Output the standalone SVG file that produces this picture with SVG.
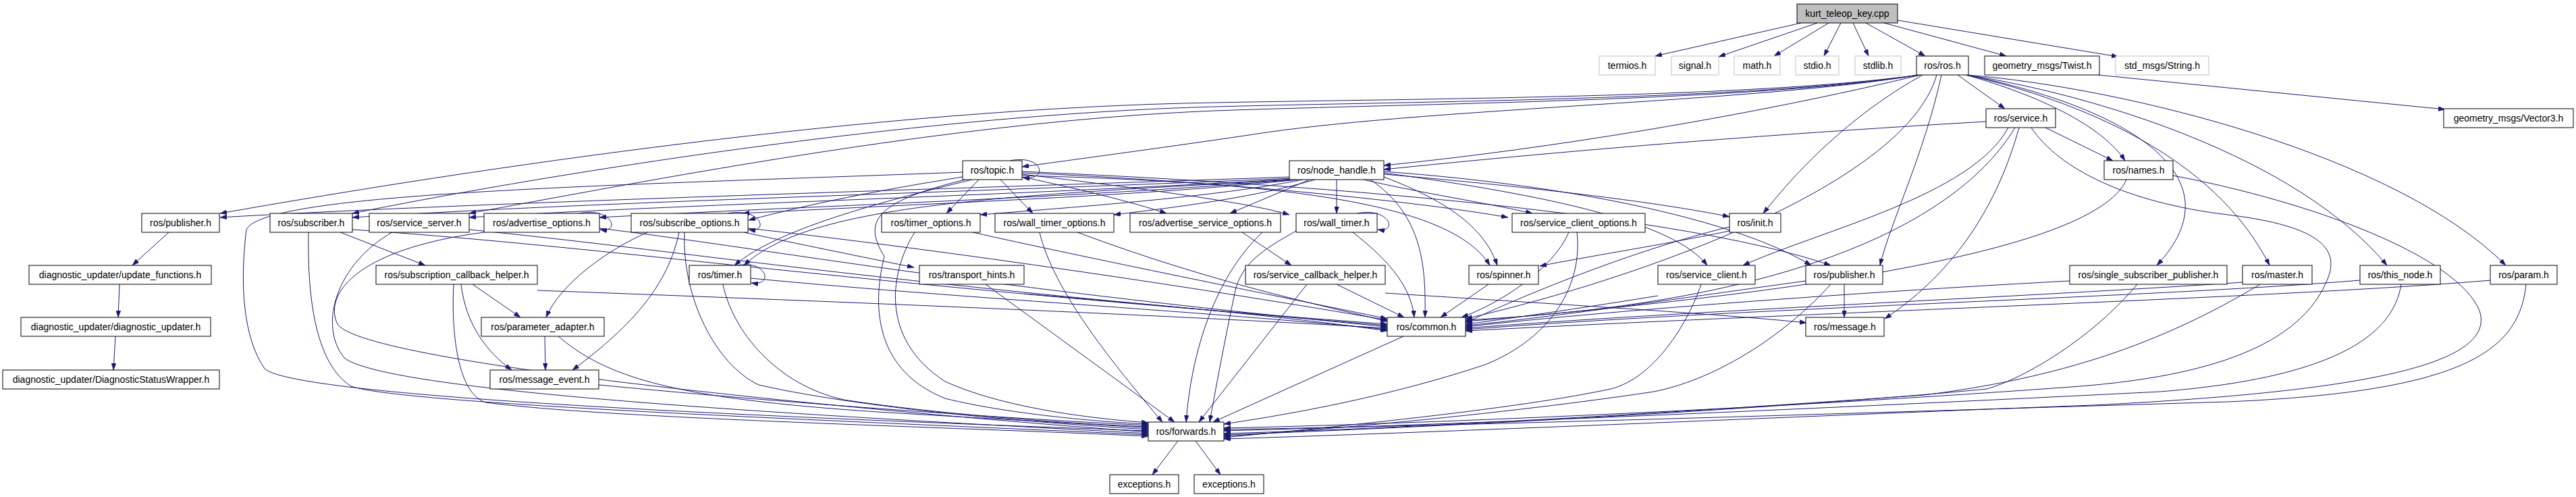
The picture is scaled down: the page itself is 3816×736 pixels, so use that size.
<svg xmlns="http://www.w3.org/2000/svg" width="3816" height="736" viewBox="0 0 3816 736">
<style>
.n rect{fill:#fff;stroke:#000;stroke-width:1}
.x rect{fill:#fff;stroke:#bfbfbf;stroke-width:1}
.r rect{fill:#bfbfbf;stroke:#000;stroke-width:1}
text{font-family:"Liberation Sans",Arial,Helvetica,sans-serif;font-size:14px;text-anchor:middle;fill:#000}
#edges path{fill:none;stroke:#191970;stroke-width:1;marker-end:url(#a)}
</style>
<defs>
<marker id="a" viewBox="0 0 10 7" refX="10" refY="3.5" markerWidth="10" markerHeight="7" markerUnits="userSpaceOnUse" orient="auto"><path d="M0,0L10,3.5L0,7z" fill="#191970" stroke="#191970" stroke-width="0.5"/></marker>
</defs>
<rect x="0" y="0" width="3816" height="736" fill="#fff"/>
<g id="edges">
<path d="M2668,34 L2452,83"/>
<path d="M2692,34 L2546,84"/>
<path d="M2709,34 L2628,83"/>
<path d="M2727,34 L2702,83"/>
<path d="M2745,34 L2768,83"/>
<path d="M2764,34 L2852,83"/>
<path d="M2791,34 L2972,83"/>
<path d="M2811,30 L3138,84"/>
<path d="M3108,111 L3622,162"/>
<path d="M2900,111 L2970,161"/>
<path d="M2912,111 C3000,135 3110,180 3148,238"/>
<path d="M2914,111 C3150,160 3320,260 3195,393"/>
<path d="M2914,111 C3080,150 3280,230 3362,393"/>
<path d="M2914,111 C3100,140 3400,230 3536,393"/>
<path d="M2914,111 C3150,130 3550,230 3712,393"/>
<path d="M2848,111 C2760,160 2680,230 2612,316"/>
<path d="M2876,111 C2850,230 2800,330 2785,393"/>
<path d="M2869,111 C2820,280 2400,420 2171,472"/>
<path d="M2845,111 C2600,170 2300,220 2050,245"/>
<path d="M2842,111 C2600,152 2100,160 1850,200 C1700,222 1600,235 1514,247"/>
<path d="M2842,111 C2600,145 2100,146 1800,152 C1300,160 700,250 326,316"/>
<path d="M2842,111 C2600,148 2100,150 1800,158 C1350,170 800,260 522,316"/>
<path d="M2842,111 C2600,150 2100,153 1800,164 C1400,180 950,270 695,316"/>
<path d="M2942,180 C2600,200 2300,225 2050,251"/>
<path d="M3030,189 L3130,238"/>
<path d="M2991,189 C2960,300 2900,400 2792,472"/>
<path d="M2975,189 C2920,290 2700,340 2582,393"/>
<path d="M3009,189 C3050,250 3150,300 3300,318 C3440,335 3470,370 3445,420 C3400,520 3250,560 3068,573 C2700,600 2200,625 1813,634"/>
<path d="M2985,189 C2900,330 2650,450 2171,474"/>
<path d="M3150,266 C3100,380 2600,440 2171,476"/>
<path d="M3219,260 C3430,300 3640,380 3673,460 C3700,540 3500,580 3100,600 C2700,615 2200,638 1813,650"/>
<path d="M1912,262 C1400,280 700,300 326,322"/>
<path d="M1914,264 C1400,286 900,298 522,322"/>
<path d="M1916,265 C1500,290 1000,303 695,322"/>
<path d="M1918,266 C1600,293 1200,305 888,322"/>
<path d="M1922,266 C1700,290 1400,300 1100,316"/>
<path d="M1930,266 C1800,292 1600,306 1452,318"/>
<path d="M1948,266 C1860,292 1750,306 1650,318"/>
<path d="M1940,266 L1822,316"/>
<path d="M1980,266 L1980,316"/>
<path d="M2020,266 C2100,285 2200,300 2270,316"/>
<path d="M2050,258 C2250,275 2450,298 2562,321"/>
<path d="M1915,266 C1500,290 1200,300 1102,393"/>
<path d="M2050,262 C2150,300 2200,340 2218,393"/>
<path d="M2050,256 C2300,290 2480,330 2529,393"/>
<path d="M2050,254 C2350,276 2580,330 2683,393"/>
<path d="M2030,266 C2110,320 2112,400 2111,470"/>
<path d="M1426,262 C1300,282 1200,302 1109,326"/>
<path d="M1450,266 L1402,316"/>
<path d="M1482,266 L1530,316"/>
<path d="M1514,262 C1600,280 1680,300 1728,316"/>
<path d="M1514,258 C1700,280 1850,300 1910,318"/>
<path d="M1514,256 C1800,268 2100,298 2234,322"/>
<path d="M1440,266 C1300,300 1150,340 1088,393"/>
<path d="M1514,260 C1900,270 2150,300 2207,393"/>
<path d="M1426,255 C900,275 390,285 365,340 C355,420 360,500 392,546 C440,590 1200,620 1701,638"/>
<path d="M1430,266 C1290,300 1280,330 1310,380 C1290,460 1300,550 1400,590 C1500,615 1650,626 1701,628"/>
<path d="M1514,254 C2000,275 2500,320 2712,393"/>
<path d="M250,344 L196,393"/>
<path d="M177,421 L175,470"/>
<path d="M171,498 L168,548"/>
<path d="M504,344 L630,393"/>
<path d="M522,340 C900,365 1250,420 2055,480"/>
<path d="M457,344 C455,450 470,540 520,572 C600,600 1300,625 1701,644"/>
<path d="M581,344 C500,390 470,480 510,530 C580,585 1300,620 1701,642"/>
<path d="M695,340 C1000,370 1300,420 2055,482"/>
<path d="M717,344 C520,370 480,440 500,480 C540,540 1300,610 1701,640"/>
<path d="M888,338 C1150,370 1400,420 2055,484"/>
<path d="M959,344 C900,370 830,420 809,470"/>
<path d="M1006,344 C990,420 940,480 848,548"/>
<path d="M1014,344 C1010,440 1060,540 1124,570 C1300,610 1600,630 1701,636"/>
<path d="M1102,344 C1200,365 1300,385 1354,396"/>
<path d="M1108,338 C1400,370 1800,430 2055,474"/>
<path d="M1355,344 C1320,400 1300,500 1400,565 C1500,610 1650,622 1701,626"/>
<path d="M1441,344 C1600,380 1900,440 2055,472"/>
<path d="M1540,344 C1560,430 1650,540 1722,625"/>
<path d="M1596,344 C1800,420 1950,450 2055,476"/>
<path d="M1840,344 L1913,393"/>
<path d="M1870,344 C1800,410 1765,520 1757,625"/>
<path d="M2004,344 C2050,380 2090,420 2095,470"/>
<path d="M1920,342 C1870,370 1840,390 1830,430 C1815,500 1800,580 1792,625"/>
<path d="M2324,344 C2300,400 2220,450 2165,470"/>
<path d="M2336,344 C2345,420 2300,500 2200,540 C2050,590 1900,615 1813,628"/>
<path d="M2562,336 C2420,370 2250,440 2171,478"/>
<path d="M2562,342 C2450,365 2350,380 2281,394"/>
<path d="M700,421 L771,470"/>
<path d="M683,421 C690,480 720,520 758,548"/>
<path d="M672,421 C668,500 680,585 720,596 C900,620 1400,632 1701,646"/>
<path d="M796,430 C1200,445 1700,465 2055,486"/>
<path d="M1112,412 C1400,440 1800,462 2055,488"/>
<path d="M1071,421 C1085,490 1150,570 1250,592 C1400,615 1600,628 1701,632"/>
<path d="M1517,435 C1700,450 1900,468 2055,490"/>
<path d="M1460,421 L1740,625"/>
<path d="M1980,421 L2080,470"/>
<path d="M1936,421 L1776,625"/>
<path d="M2052,434 C2300,450 2550,465 2676,478"/>
<path d="M2205,421 L2134,470"/>
<path d="M2456,438 C2350,455 2250,470 2171,480"/>
<path d="M2520,421 C2500,480 2450,560 2386,576 C2250,605 2000,630 1813,648"/>
<path d="M2732,421 L2732,470"/>
<path d="M2675,416 C2500,440 2300,470 2171,482"/>
<path d="M2712,421 C2650,490 2550,560 2450,580 C2250,610 2000,634 1813,646"/>
<path d="M3066,416 C2800,430 2400,458 2171,484"/>
<path d="M3166,421 C3100,500 3000,560 2943,576 C2700,600 2200,630 1813,644"/>
<path d="M3322,418 C3000,440 2500,460 2171,486"/>
<path d="M3348,421 C3200,510 3050,560 2850,585 C2500,610 2100,634 1813,642"/>
<path d="M3496,415 C3200,440 2600,455 2171,488"/>
<path d="M3557,421 C3545,500 3450,560 3200,580 C2800,600 2200,628 1813,638"/>
<path d="M3690,415 C3400,440 2700,462 2171,490"/>
<path d="M3742,421 C3732,520 3650,580 3300,595 C2800,610 2200,630 1813,636"/>
<path d="M807,498 L808,548"/>
<path d="M827,498 C900,560 1000,590 1300,610 C1500,622 1650,630 1701,634"/>
<path d="M2079,498 L1797,625"/>
<path d="M887,570 C1200,600 1500,620 1701,630"/>
<path d="M1745,653 L1707,703"/>
<path d="M1771,653 L1808,703"/>
<path d="M1496,238 C1545,228 1555,268 1515,263"/>
<path d="M858,316 C905,306 922,345 889,340"/>
<path d="M1078,316 C1125,306 1142,345 1109,340"/>
<path d="M2010,316 C2058,306 2072,345 2041,340"/>
<path d="M1092,393 C1135,384 1148,424 1113,419"/>
</g>
<g id="kurt_teleop_key_cpp" class="r"><rect x="2662" y="6" width="149" height="28"/><text x="2736.5" y="25">kurt_teleop_key.cpp</text></g>
<g id="termios_h" class="x"><rect x="2369" y="83" width="83" height="28"/><text x="2410.5" y="102">termios.h</text></g>
<g id="signal_h" class="x"><rect x="2476" y="83" width="70" height="28"/><text x="2511" y="102">signal.h</text></g>
<g id="math_h" class="x"><rect x="2569" y="83" width="68" height="28"/><text x="2603" y="102">math.h</text></g>
<g id="stdio_h" class="x"><rect x="2660" y="83" width="64" height="28"/><text x="2692" y="102">stdio.h</text></g>
<g id="stdlib_h" class="x"><rect x="2748" y="83" width="68" height="28"/><text x="2782" y="102">stdlib.h</text></g>
<g id="ros_ros_h" class="n"><rect x="2839" y="83" width="77" height="28"/><text x="2877.5" y="102">ros/ros.h</text></g>
<g id="geometry_msgs_Twist_h" class="n"><rect x="2940" y="83" width="170" height="28"/><text x="3025" y="102">geometry_msgs/Twist.h</text></g>
<g id="std_msgs_String_h" class="x"><rect x="3134" y="83" width="138" height="28"/><text x="3203" y="102">std_msgs/String.h</text></g>
<g id="ros_service_h" class="n"><rect x="2942" y="161" width="103" height="28"/><text x="2993.5" y="180">ros/service.h</text></g>
<g id="geometry_msgs_Vector3_h" class="n"><rect x="3620" y="161" width="192" height="28"/><text x="3716" y="180">geometry_msgs/Vector3.h</text></g>
<g id="ros_topic_h" class="n"><rect x="1426" y="238" width="88" height="28"/><text x="1470" y="257">ros/topic.h</text></g>
<g id="ros_node_handle_h" class="n"><rect x="1910" y="238" width="140" height="28"/><text x="1980" y="257">ros/node_handle.h</text></g>
<g id="ros_names_h" class="n"><rect x="3117" y="238" width="102" height="28"/><text x="3168" y="257">ros/names.h</text></g>
<g id="ros_publisher_h_1" class="n"><rect x="210" y="316" width="115" height="28"/><text x="267.5" y="335">ros/publisher.h</text></g>
<g id="ros_subscriber_h" class="n"><rect x="400" y="316" width="122" height="28"/><text x="461" y="335">ros/subscriber.h</text></g>
<g id="ros_service_server_h" class="n"><rect x="547" y="316" width="148" height="28"/><text x="621" y="335">ros/service_server.h</text></g>
<g id="ros_advertise_options_h" class="n"><rect x="717" y="316" width="171" height="28"/><text x="802.5" y="335">ros/advertise_options.h</text></g>
<g id="ros_subscribe_options_h" class="n"><rect x="935" y="316" width="173" height="28"/><text x="1021.5" y="335">ros/subscribe_options.h</text></g>
<g id="ros_timer_options_h" class="n"><rect x="1306" y="316" width="146" height="28"/><text x="1379" y="335">ros/timer_options.h</text></g>
<g id="ros_wall_timer_options_h" class="n"><rect x="1474" y="316" width="176" height="28"/><text x="1562" y="335">ros/wall_timer_options.h</text></g>
<g id="ros_advertise_service_options_h" class="n"><rect x="1674" y="316" width="223" height="28"/><text x="1785.5" y="335">ros/advertise_service_options.h</text></g>
<g id="ros_wall_timer_h" class="n"><rect x="1920" y="316" width="120" height="28"/><text x="1980" y="335">ros/wall_timer.h</text></g>
<g id="ros_service_client_options_h" class="n"><rect x="2240" y="316" width="197" height="28"/><text x="2338.5" y="335">ros/service_client_options.h</text></g>
<g id="ros_init_h" class="n"><rect x="2562" y="316" width="76" height="28"/><text x="2600" y="335">ros/init.h</text></g>
<g id="diagnostic_updater_update_functions_h" class="n"><rect x="43" y="393" width="270" height="28"/><text x="178" y="412">diagnostic_updater/update_functions.h</text></g>
<g id="ros_subscription_callback_helper_h" class="n"><rect x="557" y="393" width="239" height="28"/><text x="676.5" y="412">ros/subscription_callback_helper.h</text></g>
<g id="ros_timer_h" class="n"><rect x="1021" y="393" width="91" height="28"/><text x="1066.5" y="412">ros/timer.h</text></g>
<g id="ros_transport_hints_h" class="n"><rect x="1362" y="393" width="155" height="28"/><text x="1439.5" y="412">ros/transport_hints.h</text></g>
<g id="ros_service_callback_helper_h" class="n"><rect x="1845" y="393" width="207" height="28"/><text x="1948.5" y="412">ros/service_callback_helper.h</text></g>
<g id="ros_spinner_h" class="n"><rect x="2176" y="393" width="103" height="28"/><text x="2227.5" y="412">ros/spinner.h</text></g>
<g id="ros_service_client_h" class="n"><rect x="2456" y="393" width="144" height="28"/><text x="2528" y="412">ros/service_client.h</text></g>
<g id="ros_publisher_h_2" class="n"><rect x="2675" y="393" width="114" height="28"/><text x="2732" y="412">ros/publisher.h</text></g>
<g id="ros_single_subscriber_publisher_h" class="n"><rect x="3066" y="393" width="233" height="28"/><text x="3182.5" y="412">ros/single_subscriber_publisher.h</text></g>
<g id="ros_master_h" class="n"><rect x="3322" y="393" width="103" height="28"/><text x="3373.5" y="412">ros/master.h</text></g>
<g id="ros_this_node_h" class="n"><rect x="3496" y="393" width="119" height="28"/><text x="3555.5" y="412">ros/this_node.h</text></g>
<g id="ros_param_h" class="n"><rect x="3689" y="393" width="99" height="28"/><text x="3738.5" y="412">ros/param.h</text></g>
<g id="diagnostic_updater_diagnostic_updater_h" class="n"><rect x="31" y="470" width="281" height="28"/><text x="171.5" y="489">diagnostic_updater/diagnostic_updater.h</text></g>
<g id="ros_parameter_adapter_h" class="n"><rect x="713" y="470" width="182" height="28"/><text x="804" y="489">ros/parameter_adapter.h</text></g>
<g id="ros_common_h" class="n"><rect x="2055" y="470" width="116" height="28"/><text x="2113" y="489">ros/common.h</text></g>
<g id="ros_message_h" class="n"><rect x="2675" y="470" width="116" height="28"/><text x="2733" y="489">ros/message.h</text></g>
<g id="diagnostic_updater_DiagnosticStatusWrapper_h" class="n"><rect x="4" y="548" width="321" height="28"/><text x="164.5" y="567">diagnostic_updater/DiagnosticStatusWrapper.h</text></g>
<g id="ros_message_event_h" class="n"><rect x="726" y="548" width="161" height="28"/><text x="806.5" y="567">ros/message_event.h</text></g>
<g id="ros_forwards_h" class="n"><rect x="1701" y="625" width="112" height="28"/><text x="1757" y="644">ros/forwards.h</text></g>
<g id="exceptions_h_1" class="n"><rect x="1644" y="703" width="102" height="28"/><text x="1695" y="722">exceptions.h</text></g>
<g id="exceptions_h_2" class="n"><rect x="1769" y="703" width="103" height="28"/><text x="1820.5" y="722">exceptions.h</text></g>
</svg>
